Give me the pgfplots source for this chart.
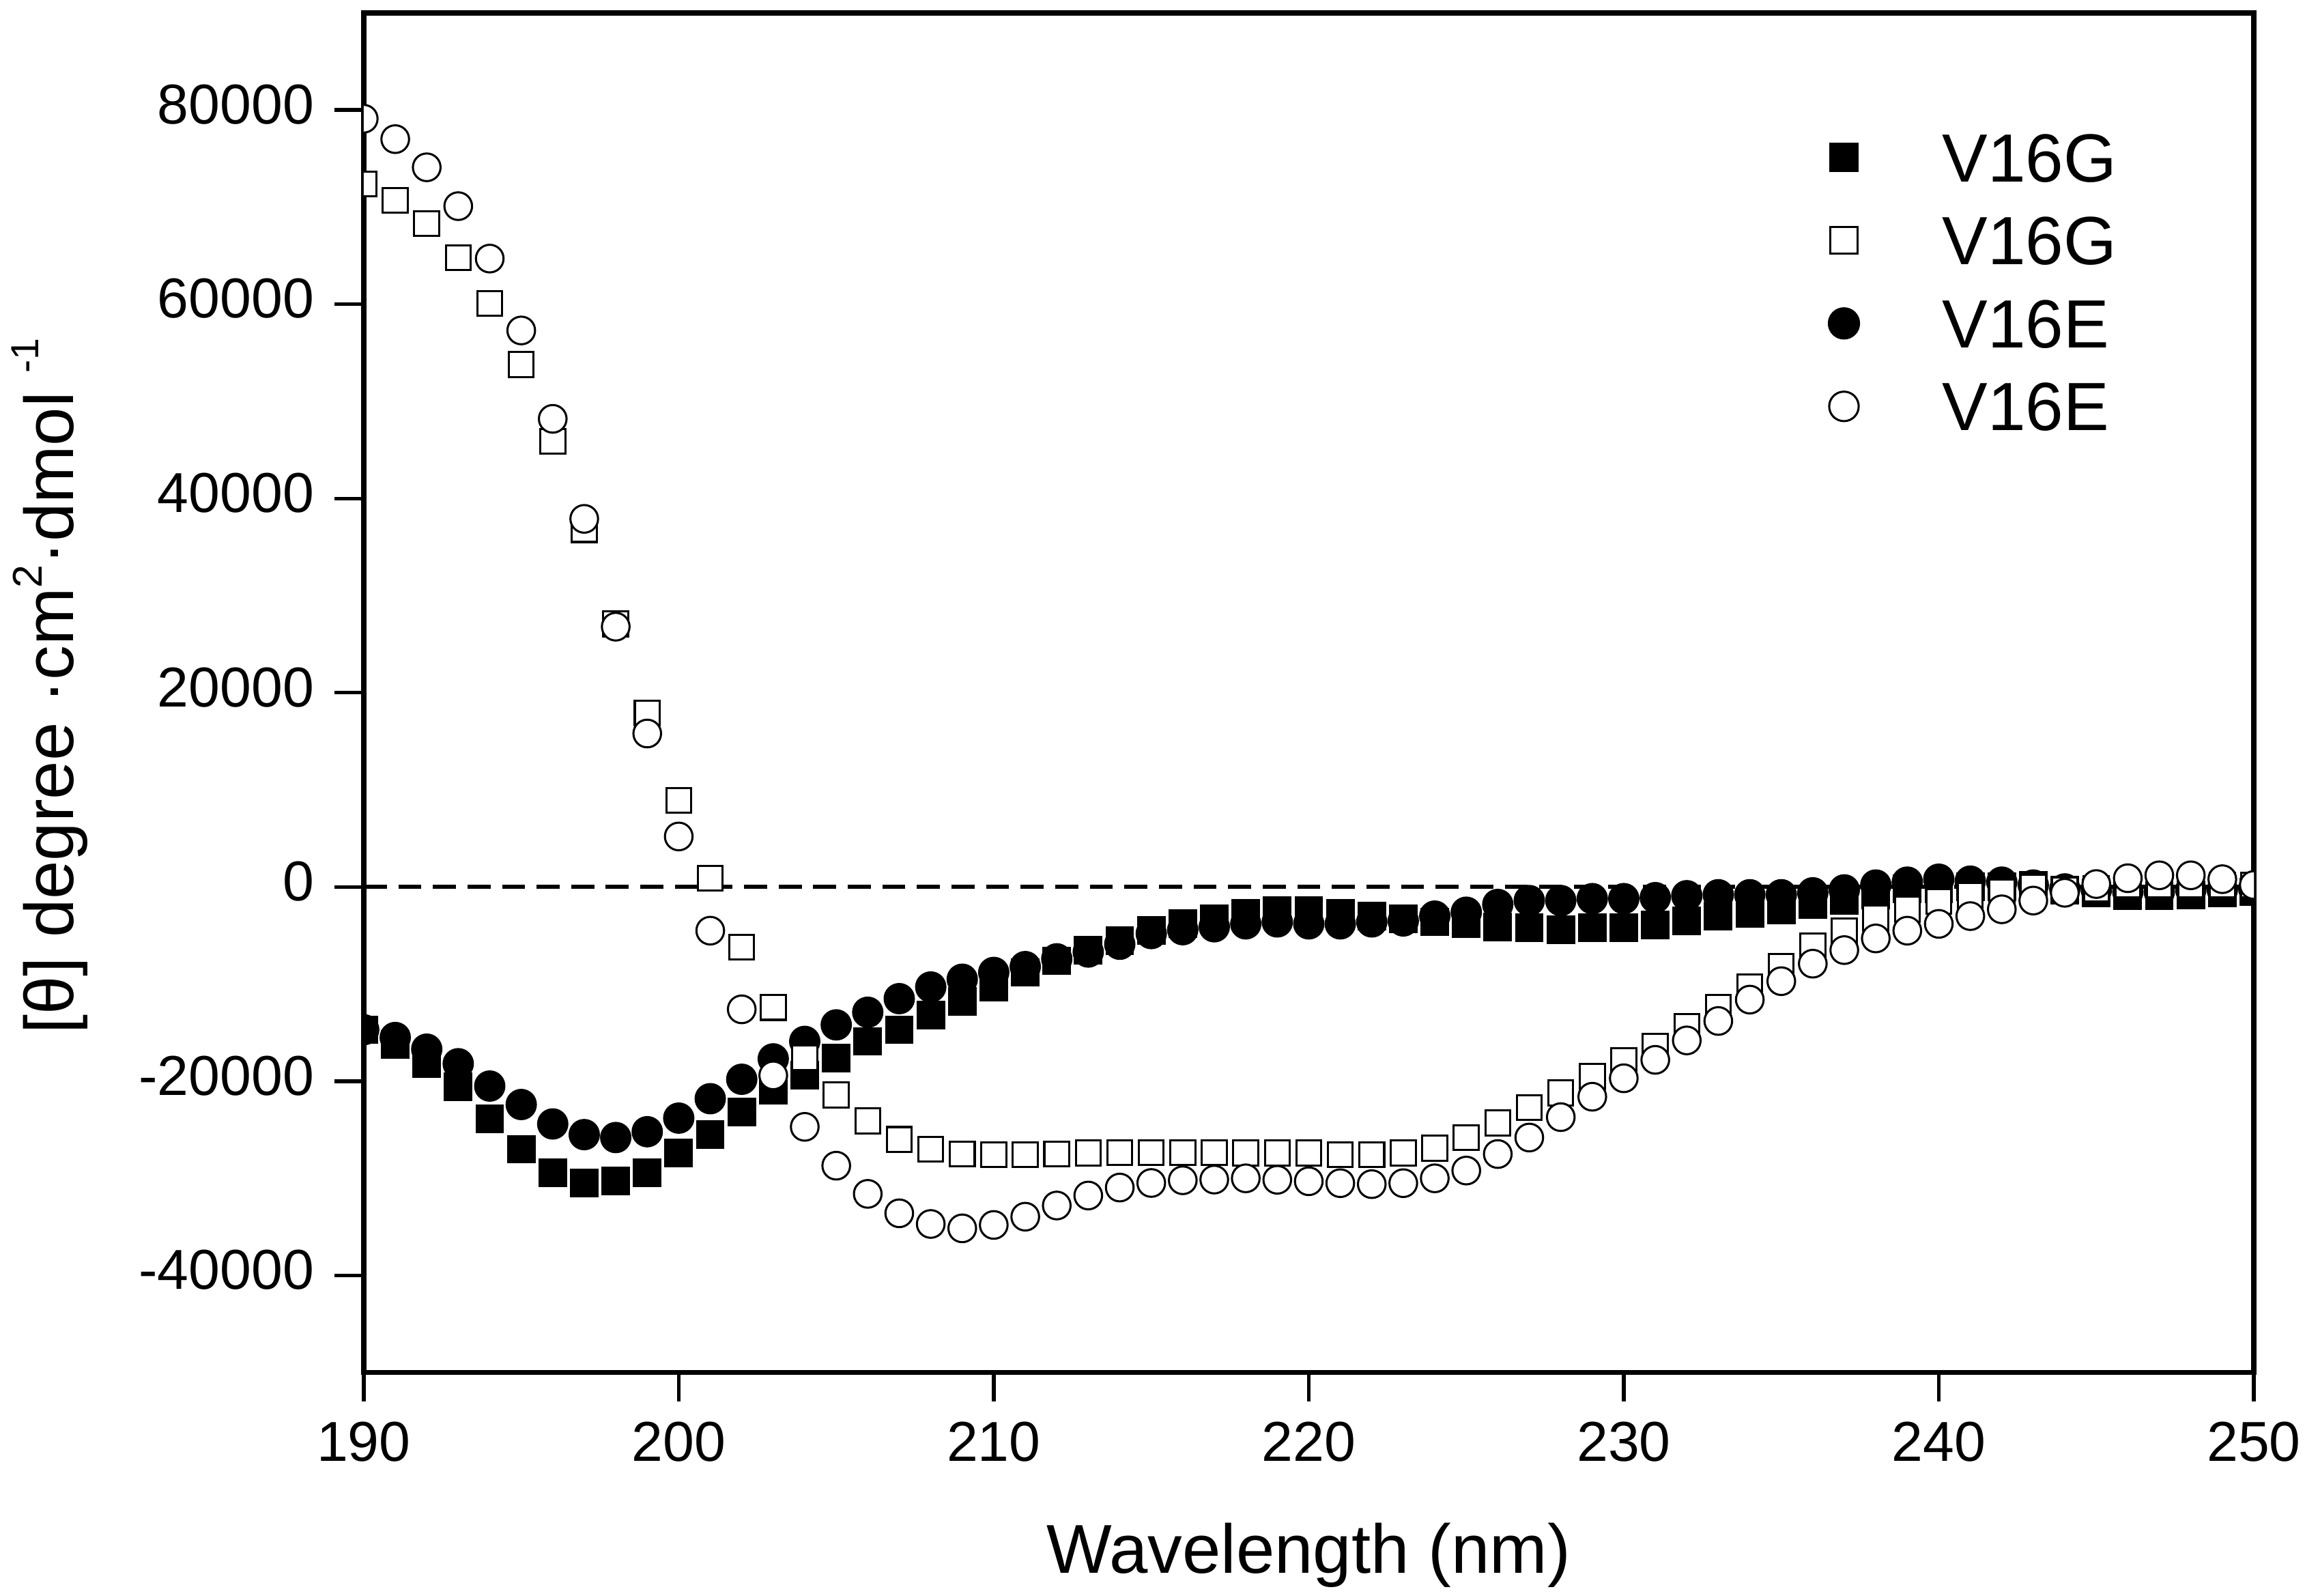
\documentclass[border=0pt]{standalone}
\usepackage{fontspec}
\setmainfont{Liberation Sans}
\usepackage{pgfplots}
\pgfplotsset{compat=1.18}
\usepackage{pgfplotstable}

\pgfplotstableread{
x fg og fe oe
190 -14700 72400 -14700 79100
191 -16200 70700 -15500 77000
192 -18200 68300 -16700 74100
193 -20600 64800 -18200 70100
194 -23900 60100 -20500 64700
195 -27000 53800 -22400 57300
196 -29400 45900 -24400 48200
197 -30500 36800 -25500 37900
198 -30300 27100 -25800 26800
199 -29400 17900 -25200 15800
200 -27400 8900 -23800 5200
201 -25500 900 -21800 -4500
202 -23200 -6200 -19800 -12600
203 -20900 -12400 -17700 -19400
204 -19400 -17600 -15900 -24700
205 -17600 -21400 -14200 -28700
206 -15900 -24100 -12900 -31600
207 -14700 -26000 -11500 -33600
208 -13200 -27000 -10300 -34700
209 -11800 -27500 -9500 -35150
210 -10300 -27550 -8800 -34800
211 -8800 -27550 -8200 -33950
212 -7600 -27500 -7400 -32800
213 -6500 -27400 -6700 -31770
214 -5500 -27350 -5900 -30950
215 -4500 -27350 -4800 -30480
216 -3800 -27350 -4400 -30200
217 -3300 -27350 -4100 -30130
218 -2700 -27400 -3800 -30000
219 -2400 -27400 -3600 -30150
220 -2400 -27400 -3800 -30300
221 -2700 -27550 -3800 -30500
222 -3000 -27550 -3600 -30600
223 -3300 -27400 -3500 -30500
224 -3600 -26900 -3000 -30000
225 -3800 -25800 -2600 -29200
226 -4100 -24300 -1800 -27500
227 -4200 -22700 -1400 -25800
228 -4400 -21200 -1400 -23700
229 -4200 -19500 -1200 -21600
230 -4200 -17900 -1200 -19700
231 -3900 -16400 -1100 -17800
232 -3500 -14400 -900 -15800
233 -3000 -12400 -800 -13800
234 -2700 -10300 -800 -11600
235 -2400 -8200 -800 -9700
236 -1800 -6100 -600 -7900
237 -1400 -4500 -300 -6500
238 -800 -3200 200 -5300
239 -200 -2300 500 -4500
240 -200 -1500 800 -3800
241 0 -900 600 -3000
242 0 -500 500 -2300
243 200 0 200 -1400
244 -300 -300 -200 -600
245 -600 -200 -300 300
246 -900 200 -500 900
247 -900 200 -500 1200
248 -800 200 -300 1200
249 -600 200 -300 800
250 -500 200 -200 200
}\data

\begin{document}
\begin{tikzpicture}
\path[use as bounding box] (-78.9pt,-48.4pt) rectangle (421.1pt,297.7pt);
\begin{axis}[
  at={(0pt,0pt)}, anchor=south west,
  scale only axis, width=410pt, height=294.9pt,
  xmin=190, xmax=250, ymin=-50000, ymax=90000,
  xtick={190,200,...,250},
  ytick={-40000,-20000,...,80000},
  xtick pos=lower, ytick pos=left,
  tick align=outside,
  major tick length=6.3pt,
  every tick/.style={black, line width=0.8pt},
  axis line style={line width=1.1pt},
  scaled y ticks=false,
  /pgf/number format/assume math mode=true,
  /pgf/number format/fixed,
  /pgf/number format/set thousands separator={},
  ticklabel style={font=\fontsize{12.2}{14}\selectfont},
  xticklabel style={anchor=base, inner sep=0pt, yshift=-12.9pt},
  yticklabel style={anchor=east, inner sep=0pt, xshift=-4.3pt, yshift=1.2pt},
  xlabel={Wavelength (nm)},
  ylabel={[θ] degree ·cm\raisebox{0.45em}{\fontsize{9}{9}\selectfont 2}·dmol \raisebox{0.5em}{\fontsize{8.5}{8.5}\selectfont -1}},
  every axis x label/.style={at={(axis description cs:0.5,0)}, yshift=-43.5pt, anchor=base, inner sep=0pt, font=\fontsize{15}{17}\selectfont},
  every axis y label/.style={at={(axis description cs:0,0.505)}, xshift=-63pt, anchor=base, rotate=90, inner sep=0pt, font=\fontsize{15}{17}\selectfont},
  clip marker paths=true,
  legend style={draw=none, fill=none, inner sep=0pt, outer sep=0pt,
    at={(axis description cs:0.7751,0.9132)}, anchor=north west,
    row sep=6.5pt,
    font=\fontsize{14.8}{16}\selectfont,
    nodes={inner sep=0.5pt, text height=10.5pt, text depth=0pt},
    /tikz/every odd column/.append style={column sep=17.5pt}},
  legend cell align=left,
  legend image code/.code={\draw[#1] plot coordinates {(0pt,0pt)};},
]
\addplot[forget plot, black, line width=0.9pt, dash pattern=on 5pt off 2.5pt] coordinates {(190,0) (250,0)};
\addplot[forget plot, only marks, mark=square*, mark size=2.9pt, mark options={fill=black, draw=black}] table[x=x, y=fg] {\data};
\addplot[forget plot, only marks, mark=*, mark size=3.2pt, mark options={fill=black, draw=black}] table[x=x, y=fe] {\data};
\addplot[forget plot, only marks, mark=square*, mark size=2.7pt, mark options={fill=white, draw=black, line width=0.45pt}] table[x=x, y=og] {\data};
\addplot[forget plot, only marks, mark=*, mark size=3.0pt, mark options={fill=white, draw=black, line width=0.45pt}] table[x=x, y=oe] {\data};
\addlegendimage{only marks, mark=square*, mark size=3.0pt, mark options={fill=black, draw=black}}
\addlegendentry{V16G}
\addlegendimage{only marks, mark=square*, mark size=2.9pt, mark options={fill=white, draw=black, line width=0.45pt}}
\addlegendentry{V16G}
\addlegendimage{only marks, mark=*, mark size=3.3pt, mark options={fill=black, draw=black}}
\addlegendentry{V16E}
\addlegendimage{only marks, mark=*, mark size=3.2pt, mark options={fill=white, draw=black, line width=0.45pt}}
\addlegendentry{V16E}
\end{axis}
\end{tikzpicture}
\end{document}
